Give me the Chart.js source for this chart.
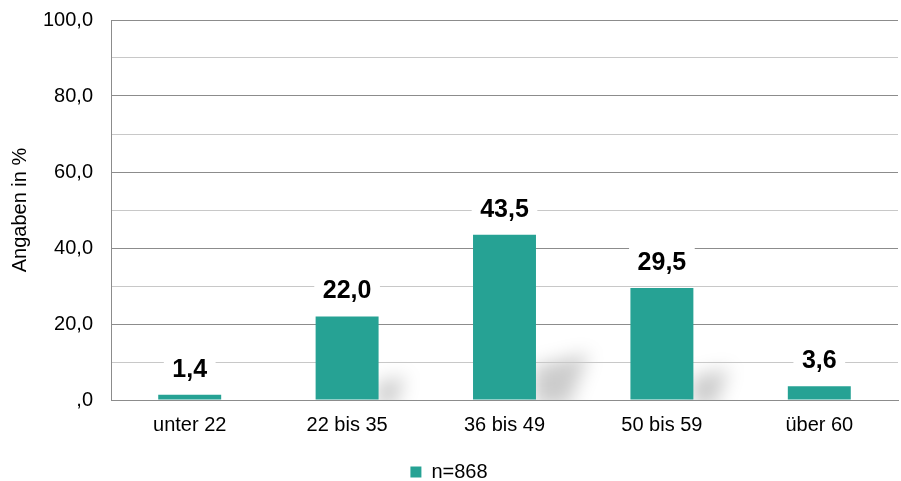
<!DOCTYPE html>
<html>
<head>
<meta charset="utf-8">
<script src="https://cdn.jsdelivr.net/npm/chart.js@4.4.1/dist/chart.umd.min.js"></script>
<style>
  html, body { margin: 0; padding: 0; background: #fff; }
  #wrap { width: 901px; height: 481px; }
</style>
</head>
<body>
<div id="wrap"><canvas id="chart"></canvas></div>
<script>
  const categories = ["unter 22", "22 bis 35", "36 bis 49", "50 bis 59", "über 60"];
  const values = [1.4, 22.0, 43.5, 29.5, 3.6];
  const seriesLabel = "n=868";
  const yTitle = "Angaben in %";

  const teal = "#26a294";
  const FONT = "'Liberation Sans', Arial, sans-serif";
  const fmt = (v) => {
    const s = Number(v).toFixed(1).replace(".", ",");
    return s.startsWith("0,") ? s.slice(1) : s;
  };

  // soft shadow to the right of each bar, under the gridlines
  const barShadow = {
    id: "barShadow",
    beforeDraw(chart) {
      const ctx = chart.ctx;
      const area = chart.chartArea;
      const meta = chart.getDatasetMeta(0);
      ctx.save();
      ctx.beginPath();
      ctx.rect(area.left, area.top, area.right - area.left, area.bottom - area.top);
      ctx.clip();
      ctx.filter = "blur(9px)";
      ctx.fillStyle = "rgba(0,0,0,0.2)";
      meta.data.forEach((bar) => {
        const h = bar.base - bar.y;
        if (h < 30) return;
        const r = bar.x + bar.width / 2;
        ctx.beginPath();
        ctx.moveTo(r - 2, bar.base + 6);
        ctx.lineTo(r - 2, bar.base - h * 0.2);
        ctx.lineTo(r + h * 0.32, bar.base - h * 0.28);
        ctx.lineTo(r + h * 0.2, bar.base + 6);
        ctx.closePath();
        ctx.fill();
      });
      ctx.restore();
    }
  };

  // bold value labels with white background
  const valueLabels = {
    id: "valueLabels",
    afterDatasetsDraw(chart) {
      const ctx = chart.ctx;
      const meta = chart.getDatasetMeta(0);
      ctx.save();
      ctx.font = "bold 25px " + FONT;
      ctx.textAlign = "center";
      ctx.textBaseline = "middle";
      meta.data.forEach((bar, i) => {
        const txt = fmt(values[i]);
        const w = ctx.measureText(txt).width + 17;
        const cy = bar.y - 26;
        ctx.fillStyle = "#fff";
        ctx.fillRect(bar.x - w / 2, cy - 14, w, 28);
        ctx.fillStyle = "#000";
        ctx.fillText(txt, bar.x, cy + 1);
      });
      ctx.restore();
    }
  };

  new Chart(document.getElementById("chart"), {
    type: "bar",
    data: {
      labels: categories,
      datasets: [{
        label: seriesLabel,
        data: values,
        backgroundColor: teal,
        borderWidth: 0,
        barPercentage: 0.4,
        categoryPercentage: 1.0
      }]
    },
    options: {
      responsive: true,
      maintainAspectRatio: false,
      animation: false,
      layout: { padding: { top: 20, right: 3, left: 0, bottom: -11 } },
      plugins: {
        tooltip: { enabled: false },
        legend: {
          position: "bottom",
          labels: {
            boxWidth: 11,
            boxHeight: 11,
            padding: 4,
            color: "#000",
            font: { family: FONT, size: 20 }
          }
        }
      },
      scales: {
        x: {
          afterFit: (scale) => { scale.height = 58; },
          grid: { display: false },
          border: { color: "#8c8c8c", width: 1 },
          ticks: {
            color: "#000",
            padding: 5,
            font: { family: FONT, size: 20 }
          }
        },
        y: {
          min: 0,
          max: 100,
          afterFit: (scale) => {
            scale.width = 111;
            scale.paddingTop = 0;
            scale.paddingBottom = 0;
          },
          border: { color: "#8c8c8c", width: 1 },
          grid: {
            drawTicks: false,
            color: (c) => (c.tick && c.tick.value % 20 === 0) ? "#8c8c8c" : "#c8c8c8",
            lineWidth: 1
          },
          ticks: {
            stepSize: 10,
            autoSkip: false,
            padding: 18,
            color: "#000",
            font: { family: FONT, size: 20 },
            callback: (v) => (v % 20 === 0 ? fmt(v) : "")
          },
          title: {
            display: true,
            text: yTitle,
            color: "#000",
            padding: { top: 8, bottom: 0 },
            font: { family: FONT, size: 20 }
          }
        }
      }
    },
    plugins: [barShadow, valueLabels]
  });
</script>
</body>
</html>
